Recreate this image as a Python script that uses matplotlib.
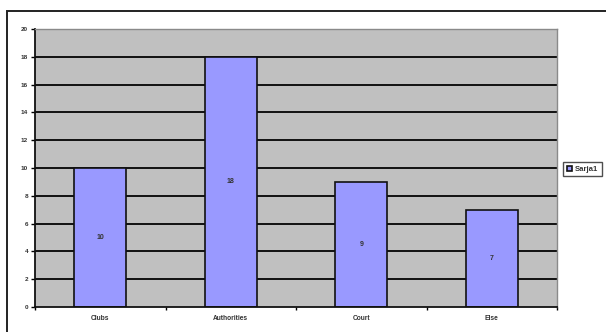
import matplotlib
matplotlib.use("Agg")
import matplotlib.pyplot as plt
from matplotlib.patches import Rectangle
import numpy as np

categories = ["Clubs", "Authorities", "Court", "Else"]
values = [10, 18, 9, 7]
series_name = "Sarja1"
y_ticks = [0, 2, 4, 6, 8, 10, 12, 14, 16, 18, 20]

plt.rcParams["font.family"] = ["Liberation Sans", "DejaVu Sans"]

W, H = 606, 332
fig = plt.figure(figsize=(W / 100, H / 100), dpi=100)
fig.patch.set_facecolor("white")

# outer chart frame (runs off the right and bottom edges)
fig.add_artist(Rectangle((7 / W, -0.2), 1.2, (H - 11) / H + 0.2,
                         transform=fig.transFigure, fill=False,
                         edgecolor="#222222", linewidth=1.4, clip_on=False))

left, right, top, bottom = 35, 557, 29, 307
ax = fig.add_axes([left / W, (H - bottom) / H, (right - left) / W, (bottom - top) / H])
ax.set_facecolor("#C0C0C0")

x = np.arange(len(categories))
ax.set_xlim(-0.5, len(categories) - 0.5)
ax.set_ylim(0, 20)

for yv in y_ticks[1:]:
    ax.axhline(yv, color="#111111", linewidth=1.4, zorder=1)

bars = ax.bar(x, values, width=0.4, color="#9999FF", edgecolor="#111111",
              linewidth=1.2, zorder=2, label=series_name)

for xi, v in zip(x, values):
    ax.text(xi, v / 2, str(v), ha="center", va="center", fontsize=5,
            fontweight="bold", color="#333333", zorder=3)

ax.set_yticks(y_ticks)
ax.set_yticklabels([str(t) for t in y_ticks], fontsize=4.6,
                   fontweight="bold", color="#333333")
ax.tick_params(axis="y", direction="out", length=3, width=1, pad=2)

ax.set_xticks(x)
ax.set_xticklabels(categories, fontsize=4.8, fontweight="bold", color="#333333")
ax.tick_params(axis="x", length=0, pad=6)
ax.set_xticks(np.arange(-0.5, len(categories), 1.0), minor=True)
ax.tick_params(axis="x", which="minor", direction="out", length=2.5, width=1)

for side in ["left", "bottom"]:
    ax.spines[side].set_color("#111111")
    ax.spines[side].set_linewidth(1.3)
for side in ["right", "top"]:
    ax.spines[side].set_color("#8a8a8a")
    ax.spines[side].set_linewidth(1.0)

leg = fig.legend(handles=[bars], labels=[series_name], loc="upper left",
                 bbox_to_anchor=(563 / W, (H - 162) / H), fontsize=5.6,
                 frameon=True, fancybox=False, handlelength=0.7,
                 handleheight=0.7, handletextpad=0.4, borderpad=0.45,
                 borderaxespad=0)
leg.get_frame().set_edgecolor("#222222")
leg.get_frame().set_linewidth(1.0)
for t in leg.get_texts():
    t.set_color("#333333")
    t.set_fontweight("bold")

fig.savefig("out.png", dpi=100, facecolor="white")
